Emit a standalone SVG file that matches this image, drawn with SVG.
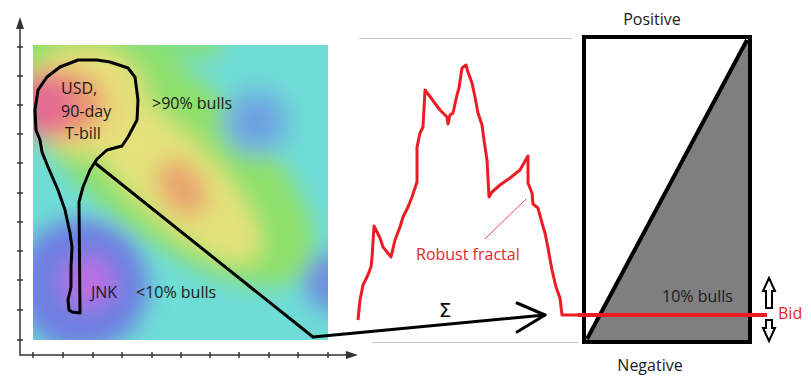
<svg xmlns="http://www.w3.org/2000/svg" width="811" height="386" viewBox="0 0 811 386">
<style>
.t{font-family:"Open Sans","Liberation Sans",sans-serif;font-size:16px;fill:#1a1a1a}
.r{fill:#e8252d}
.ax{stroke:#333;stroke-width:1.5;fill:none}
.tk{stroke:#333;stroke-width:1.5}
.gl{stroke:#c4c4c4;stroke-width:1}
.blk{stroke:#000;fill:none;stroke-linejoin:round;stroke-linecap:round}
</style>
<defs>
<clipPath id="hc"><rect x="33" y="45" width="295" height="295"/></clipPath>
<filter id="bl" x="-20%" y="-20%" width="140%" height="140%"><feGaussianBlur stdDeviation="11"/></filter>
</defs>
<rect width="811" height="386" fill="#fff"/>
<g id="heatmap">
<rect x="33" y="45" width="295" height="295" fill="#6fdcd6"/>
<g clip-path="url(#hc)">
<g filter="url(#bl)">
<rect x="20" y="30" width="200" height="28" fill="#86df7c"/>
<ellipse cx="160" cy="150" rx="190" ry="80" transform="rotate(40 160 150)" fill="#8ee06c"/>
<ellipse cx="170" cy="175" rx="120" ry="42" transform="rotate(44 170 175)" fill="#e3e27a"/>
<ellipse cx="85" cy="100" rx="62" ry="55" fill="#e6df7a"/>
<ellipse cx="182" cy="188" rx="32" ry="22" transform="rotate(55 182 188)" fill="#e9a56e"/>
<ellipse cx="58" cy="104" rx="48" ry="36" fill="#eb9a70"/>
<ellipse cx="42" cy="105" rx="34" ry="30" fill="#e56c92"/>
<circle cx="256" cy="122" r="34" fill="#6fb0e2"/>
<circle cx="256" cy="122" r="14" fill="#6a96e0"/>
<circle cx="82" cy="285" r="66" fill="#6e7fe2"/>
<circle cx="88" cy="282" r="26" fill="#bb6ee2"/>
<circle cx="334" cy="282" r="30" fill="#6f8ee0"/>
</g>
</g>
</g>
<g id="axes">
<path class="ax" d="M20,26 V355 H348"/>
<path d="M20,17 L16,29 H24 Z M358,355 L346,351 V359 Z" fill="#333"/>
<path class="tk" d="M17,47H23M17,76H23M17,105H23M17,134H23M17,163H23M17,193H23M17,222H23M17,251H23M17,280H23M17,310H23M17,340H23M33,352V358M63,352V358M93,352V358M122,352V358M152,352V358M181,352V358M210,352V358M239,352V358M269,352V358M298,352V358M328,352V358"/>
</g>
<g id="lasso">
<path class="blk" stroke-width="3" d="M80,313 L79,202 L83,187 L90,170 L97,159 L107,150 L122,146 L128,137 L137,120 L138,100 L135,77 L128,68 L110,62 L97,60 L78,60 L60,67 L47,77 L38,90 L35,110 L36,130 L40,140 L42,152 L48,167 L58,190 L65,210 L70,233 L72,247 L71,267 L71,287 L68,300 L69,310 L72,312 Z"/>
</g>
<g id="labels-left">
<text class="t" x="61" y="94">USD,</text>
<text class="t" x="61" y="117">90-day</text>
<text class="t" x="65" y="139">T-bill</text>
<text class="t" x="152" y="109">&gt;90% bulls</text>
<text class="t" x="91" y="298">JNK</text>
<text class="t" x="136" y="298">&lt;10% bulls</text>
</g>
<g id="guides">
<line class="gl" x1="359" y1="38.5" x2="572" y2="38.5"/>
<line class="gl" x1="372" y1="342.5" x2="578" y2="342.5" stroke="#a8a8a8"/>
</g>
<g id="fractal">
<path fill="none" stroke="#ed1c24" stroke-width="3" stroke-linejoin="round" d="M358,320 L360,300 L363,285 L367,277 L371,267 L372,258 L374,226 L380,238 L383,247 L391,257 L395,240 L400,227 L403,217 L408,207 L412,197 L417,182 L417,147 L420,133 L423,127 L425,90 L440,110 L447,117 L448,124 L450,115 L453,113 L457,95 L459,88 L462,68 L466,65 L468,72 L472,83 L475,97 L478,113 L482,125 L484,140 L487,160 L489,197 L492,192 L500,185 L510,178 L520,170 L528,156 L528,183 L532,193 L533,204 L538,208 L542,223 L545,233 L548,248 L552,270 L556,287 L560,298 L562,315 L580,315"/>
<line x1="526" y1="199" x2="485" y2="239" stroke="#ed1c24" stroke-width="0.8"/>
<text class="t r" x="416" y="260">Robust fractal</text>
</g>
<g id="box">
<polygon points="586,340 748,39 748,340" fill="#7f7f7f"/>
<rect x="584" y="37" width="166" height="305" fill="none" stroke="#000" stroke-width="4"/>
<line x1="587" y1="339" x2="747" y2="40" stroke="#000" stroke-width="4"/>
<text class="t" x="652" y="25" text-anchor="middle">Positive</text>
<text class="t" x="650" y="371" text-anchor="middle">Negative</text>
<text class="t" x="662" y="302">10% bulls</text>
</g>
<g id="connectors">
<polyline class="blk" stroke-width="3" points="95,163 313,337 545,315"/>
<polyline class="blk" stroke-width="3" points="517,303 545,315 517,332"/>
<text x="445" y="317" text-anchor="middle" style="font-family:'DejaVu Sans',sans-serif;font-size:20px;fill:#000">Σ</text>
<line x1="578" y1="315" x2="767" y2="315" stroke="#ed1c24" stroke-width="4"/>
</g>
<g id="bid">
<path d="M769,278 L775,291 H772 V308 H766 V291 H763 Z" fill="#fff" stroke="#000" stroke-width="2" stroke-linejoin="miter"/>
<path d="M769,341 L775,328 H772 V320 H766 V328 H763 Z" fill="#fff" stroke="#000" stroke-width="2" stroke-linejoin="miter"/>
<text class="t r" x="778" y="319">Bid</text>
</g>
</svg>
